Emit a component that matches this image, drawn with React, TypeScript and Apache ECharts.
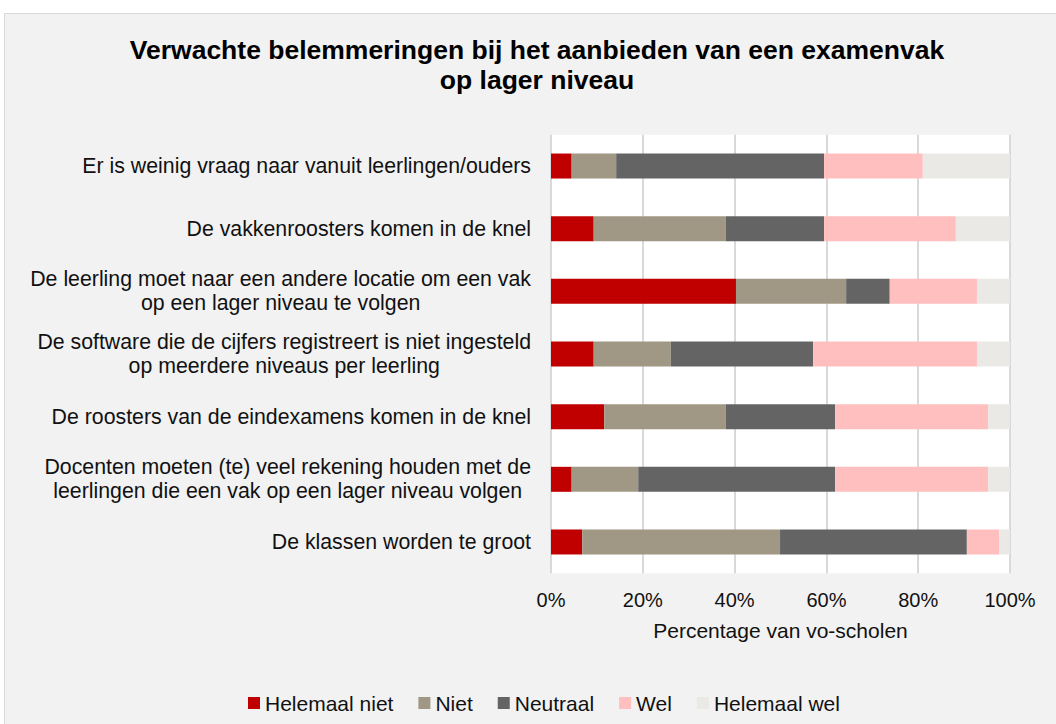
import React, { useEffect, useRef } from "react";
import * as echarts from "echarts";

const categories = [
  "Er is weinig vraag naar vanuit leerlingen/ouders",
  "De vakkenroosters komen in de knel",
  "De leerling moet naar een andere locatie om een vak\nop een lager niveau te volgen",
  "De software die de cijfers registreert is niet ingesteld\nop meerdere niveaus per leerling",
  "De roosters van de eindexamens komen in de knel",
  "Docenten moeten (te) veel rekening houden met de\nleerlingen die een vak op een lager niveau volgen",
  "De klassen worden te groot",
];

const seriesNames = ["Helemaal niet", "Niet", "Neutraal", "Wel", "Helemaal wel"];
const helemaalNiet = [4.5, 9.3, 40.3, 9.3, 11.6, 4.5, 6.8];
const niet = [9.7, 28.8, 24.0, 16.8, 26.5, 14.5, 43.1];
const neutraal = [45.3, 21.4, 9.5, 31.0, 23.8, 42.9, 40.7];
const wel = [21.5, 28.7, 19.0, 35.7, 33.3, 33.3, 7.1];
const helemaalWel = [19.0, 11.8, 7.2, 7.2, 4.8, 4.8, 2.3];
const colors = ["#c00000", "#a09884", "#646464", "#ffbfbf", "#ebe9e5"];
const xTicks = [0, 20, 40, 60, 80, 100];

const title = "Verwachte belemmeringen bij het aanbieden van een examenvak\nop lager niveau";
const xName = "Percentage van vo-scholen";

const FONT = "'Liberation Sans', Arial, sans-serif";
const TXT = "#111";

export default function App() {
  const ref = useRef<HTMLDivElement>(null);
  useEffect(() => {
    if (!ref.current) return;
    const chart = echarts.init(ref.current, null, { renderer: "svg" });
    const allData = [helemaalNiet, niet, neutraal, wel, helemaalWel];
    chart.setOption({
      animation: false,
      backgroundColor: "#ffffff",
      textStyle: { fontFamily: FONT },
      graphic: [
        {
          type: "rect",
          left: 4,
          top: 13,
          shape: { x: 0, y: 0, width: 1070, height: 730 },
          style: { fill: "#f2f2f2", stroke: "#d9d9d9", lineWidth: 1 },
          z: -10,
        },
      ],
      title: {
        text: title,
        left: 537,
        textAlign: "center",
        top: 35,
        padding: 0,
        textStyle: {
          fontFamily: FONT,
          fontSize: 26.5,
          fontWeight: "bold",
          color: "#000",
          lineHeight: 30,
        },
      },
      legend: {
        left: 248,
        top: 692,
        padding: 0,
        itemWidth: 12,
        itemHeight: 12,
        itemGap: 25,
        icon: "rect",
        textStyle: { fontFamily: FONT, fontSize: 21, color: TXT, lineHeight: 22 },
        data: seriesNames,
      },
      grid: {
        left: 551,
        width: 459,
        top: 134.7,
        height: 438.6,
        show: true,
        backgroundColor: "#ffffff",
        borderWidth: 0,
      },
      xAxis: {
        type: "value",
        min: 0,
        max: 100,
        interval: 20,
        name: xName,
        nameLocation: "middle",
        nameGap: 47,
        nameTextStyle: { fontFamily: FONT, fontSize: 21, color: TXT },
        axisLine: { show: false },
        axisTick: { show: false },
        axisLabel: {
          fontFamily: FONT,
          fontSize: 20,
          color: TXT,
          margin: 17,
          lineHeight: 20,
          formatter: (v: number) => (xTicks.includes(v) ? v + "%" : ""),
        },
        splitLine: { show: true, lineStyle: { color: "#d9d9d9", width: 2 } },
      },
      yAxis: {
        type: "category",
        inverse: true,
        data: categories,
        axisLine: { show: false },
        axisTick: { show: false },
        axisLabel: {
          fontFamily: FONT,
          fontSize: 21.3,
          color: TXT,
          margin: 20,
          lineHeight: 24,
          align: "right",
          formatter: (v: string) =>
            v
              .split("\n")
              .map((l) => "{c|" + l + "}")
              .join("\n"),
          rich: {
            c: { fontFamily: FONT, fontSize: 21.3, color: TXT, align: "center", lineHeight: 24 },
          },
        },
      },
      series: seriesNames.map((name, i) => ({
        name,
        type: "bar",
        stack: "total",
        barWidth: 25,
        data: allData[i],
        itemStyle: { color: colors[i] },
      })),
    });
    return () => chart.dispose();
  }, []);
  return (
    <div style={{ position: "fixed", left: 0, top: 0, width: 1056, height: 724 }}>
      <div ref={ref} style={{ width: 1056, height: 724 }} />
    </div>
  );
}
